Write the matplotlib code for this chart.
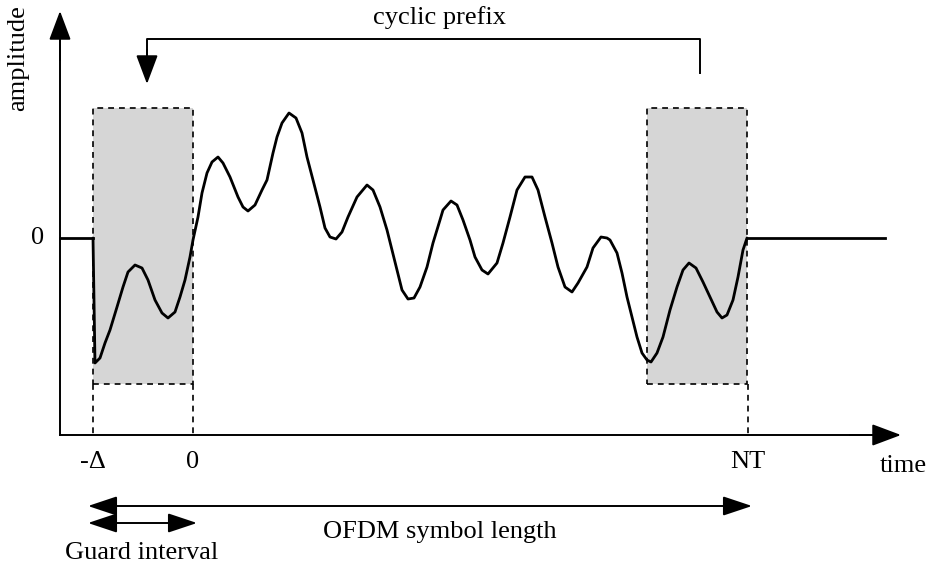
import matplotlib.pyplot as plt

# picture coordinates: x runs along time, y is measured downward (pixels)
zero_y = 238
axis_x = 60
axis_y = 435

# signal before / after the symbol
pre_x = [60, 93]
post_x = [747, 885]

# OFDM symbol waveform
wave_x = [93, 95, 100, 105, 110, 117, 123, 128, 135, 142, 148, 155, 162, 168, 175,
          180, 185, 190, 193, 198, 202, 207, 212, 218, 223, 230, 238, 243, 248, 255,
          262, 267, 273, 277, 282, 289, 296, 302, 307, 313, 320, 325, 330, 336, 342,
          348, 357, 367, 373, 380, 387, 392, 397, 402, 408, 414, 420, 427, 433, 440,
          443, 451, 457, 463, 470, 475, 482, 488, 497, 503, 510, 517, 525, 532, 538,
          545, 552, 558, 565, 572, 578, 587, 593, 601, 607, 610, 617, 622, 627, 632,
          637, 642, 647, 651, 657, 663, 670, 677, 683, 689, 696, 703, 710, 717, 722,
          727, 733, 738, 743, 747]
wave_y = [238, 363, 358, 343, 330, 307, 287, 272, 265, 268, 280, 300, 313, 318, 312,
          297, 280, 257, 240, 217, 193, 173, 162, 157, 163, 177, 197, 207, 211, 205,
          190, 180, 153, 137, 123, 113, 118, 133, 157, 180, 207, 228, 237, 239, 232,
          217, 197, 185, 190, 207, 230, 250, 270, 290, 299, 298, 287, 267, 243, 220,
          210, 201, 205, 220, 240, 257, 270, 274, 263, 243, 217, 190, 177, 177, 190,
          217, 243, 267, 287, 292, 283, 267, 248, 237, 238, 240, 253, 273, 297, 317,
          337, 353, 360, 362, 353, 337, 310, 287, 270, 263, 268, 282, 297, 312, 318,
          315, 300, 277, 250, 238]

# guard interval boxes (left edge, right edge, top, bottom)
boxes = [(93, 193, 108, 384), (647, 747, 108, 384)]
guides_x = [93, 193, 748]

tick_x = [93, 193, 748]
tick_labels = ["-Δ", "0", "NT"]

fig = plt.figure(figsize=(9.27, 5.67), dpi=100)
ax = fig.add_axes([0, 0, 1, 1])
ax.set_xlim(0, 927)
ax.set_ylim(567, 0)
ax.axis("off")

font = dict(family="Liberation Serif", fontsize=19, color="black")
dash = (0, (3.5, 3))

for x0, x1, top, bot in boxes:
    ax.fill_between([x0, x1], top, bot, color="#d6d6d6", lw=0, zorder=1)
    ax.plot([x0, x1, x1, x0, x0], [bot, bot, top, top, bot], color="black",
            lw=1.2, ls=dash, zorder=2)
for gx in guides_x:
    ax.plot([gx, gx], [384, axis_y], color="black", lw=1.2, ls=dash, zorder=2)

# waveform
ax.plot(pre_x, [zero_y, zero_y], color="black", lw=2.0, zorder=3)
ax.plot(post_x, [zero_y, zero_y], color="black", lw=2.0, zorder=3)
ax.plot(wave_x, wave_y, color="black", lw=2.0, zorder=3,
        solid_joinstyle="round", solid_capstyle="round")

# axes with arrow heads
head = "-|>,head_length=1.2,head_width=0.45"
ax.plot([axis_x, axis_x], [axis_y, 25], color="black", lw=1.4)
ax.annotate("", xy=(axis_x, 11), xytext=(axis_x, 60),
            arrowprops=dict(arrowstyle=head, color="black", lw=1.4, mutation_scale=15,
                            shrinkA=0, shrinkB=0))
ax.plot([axis_x, 885], [axis_y, axis_y], color="black", lw=1.4)
ax.annotate("", xy=(901, axis_y), xytext=(850, axis_y),
            arrowprops=dict(arrowstyle=head, color="black", lw=1.4, mutation_scale=15,
                            shrinkA=0, shrinkB=0))

# cyclic prefix bracket
ax.plot([700, 700, 147, 147], [73, 39, 39, 65], color="black", lw=1.4)
ax.annotate("", xy=(147, 84), xytext=(147, 50),
            arrowprops=dict(arrowstyle=head, color="black", lw=1.4, mutation_scale=15,
                            shrinkA=0, shrinkB=0))

# length arrows
dbl = "<|-|>,head_length=1.2,head_width=0.4"
ax.annotate("", xy=(752, 506), xytext=(88, 506),
            arrowprops=dict(arrowstyle=dbl, color="black", lw=1.4, mutation_scale=15,
                            shrinkA=0, shrinkB=0))
ax.annotate("", xy=(197, 523), xytext=(88, 523),
            arrowprops=dict(arrowstyle=dbl, color="black", lw=1.4, mutation_scale=15,
                            shrinkA=0, shrinkB=0))

# texts
ax.text(18, 58, "amplitude", rotation=90, ha="center", va="center", **font)
ax.text(38, 238, "0", ha="center", va="center", **font)
ax.text(440, 18, "cyclic prefix", ha="center", va="center", **font)
for tx, tl in zip(tick_x, tick_labels):
    ax.text(tx, 462, tl, ha="center", va="center", **font)
ax.text(903, 466, "time", ha="center", va="center", **font)
ax.text(440, 532, "OFDM symbol length", ha="center", va="center", **font)
ax.text(142, 553, "Guard interval", ha="center", va="center", **font)

fig.savefig("out.png", dpi=100)
